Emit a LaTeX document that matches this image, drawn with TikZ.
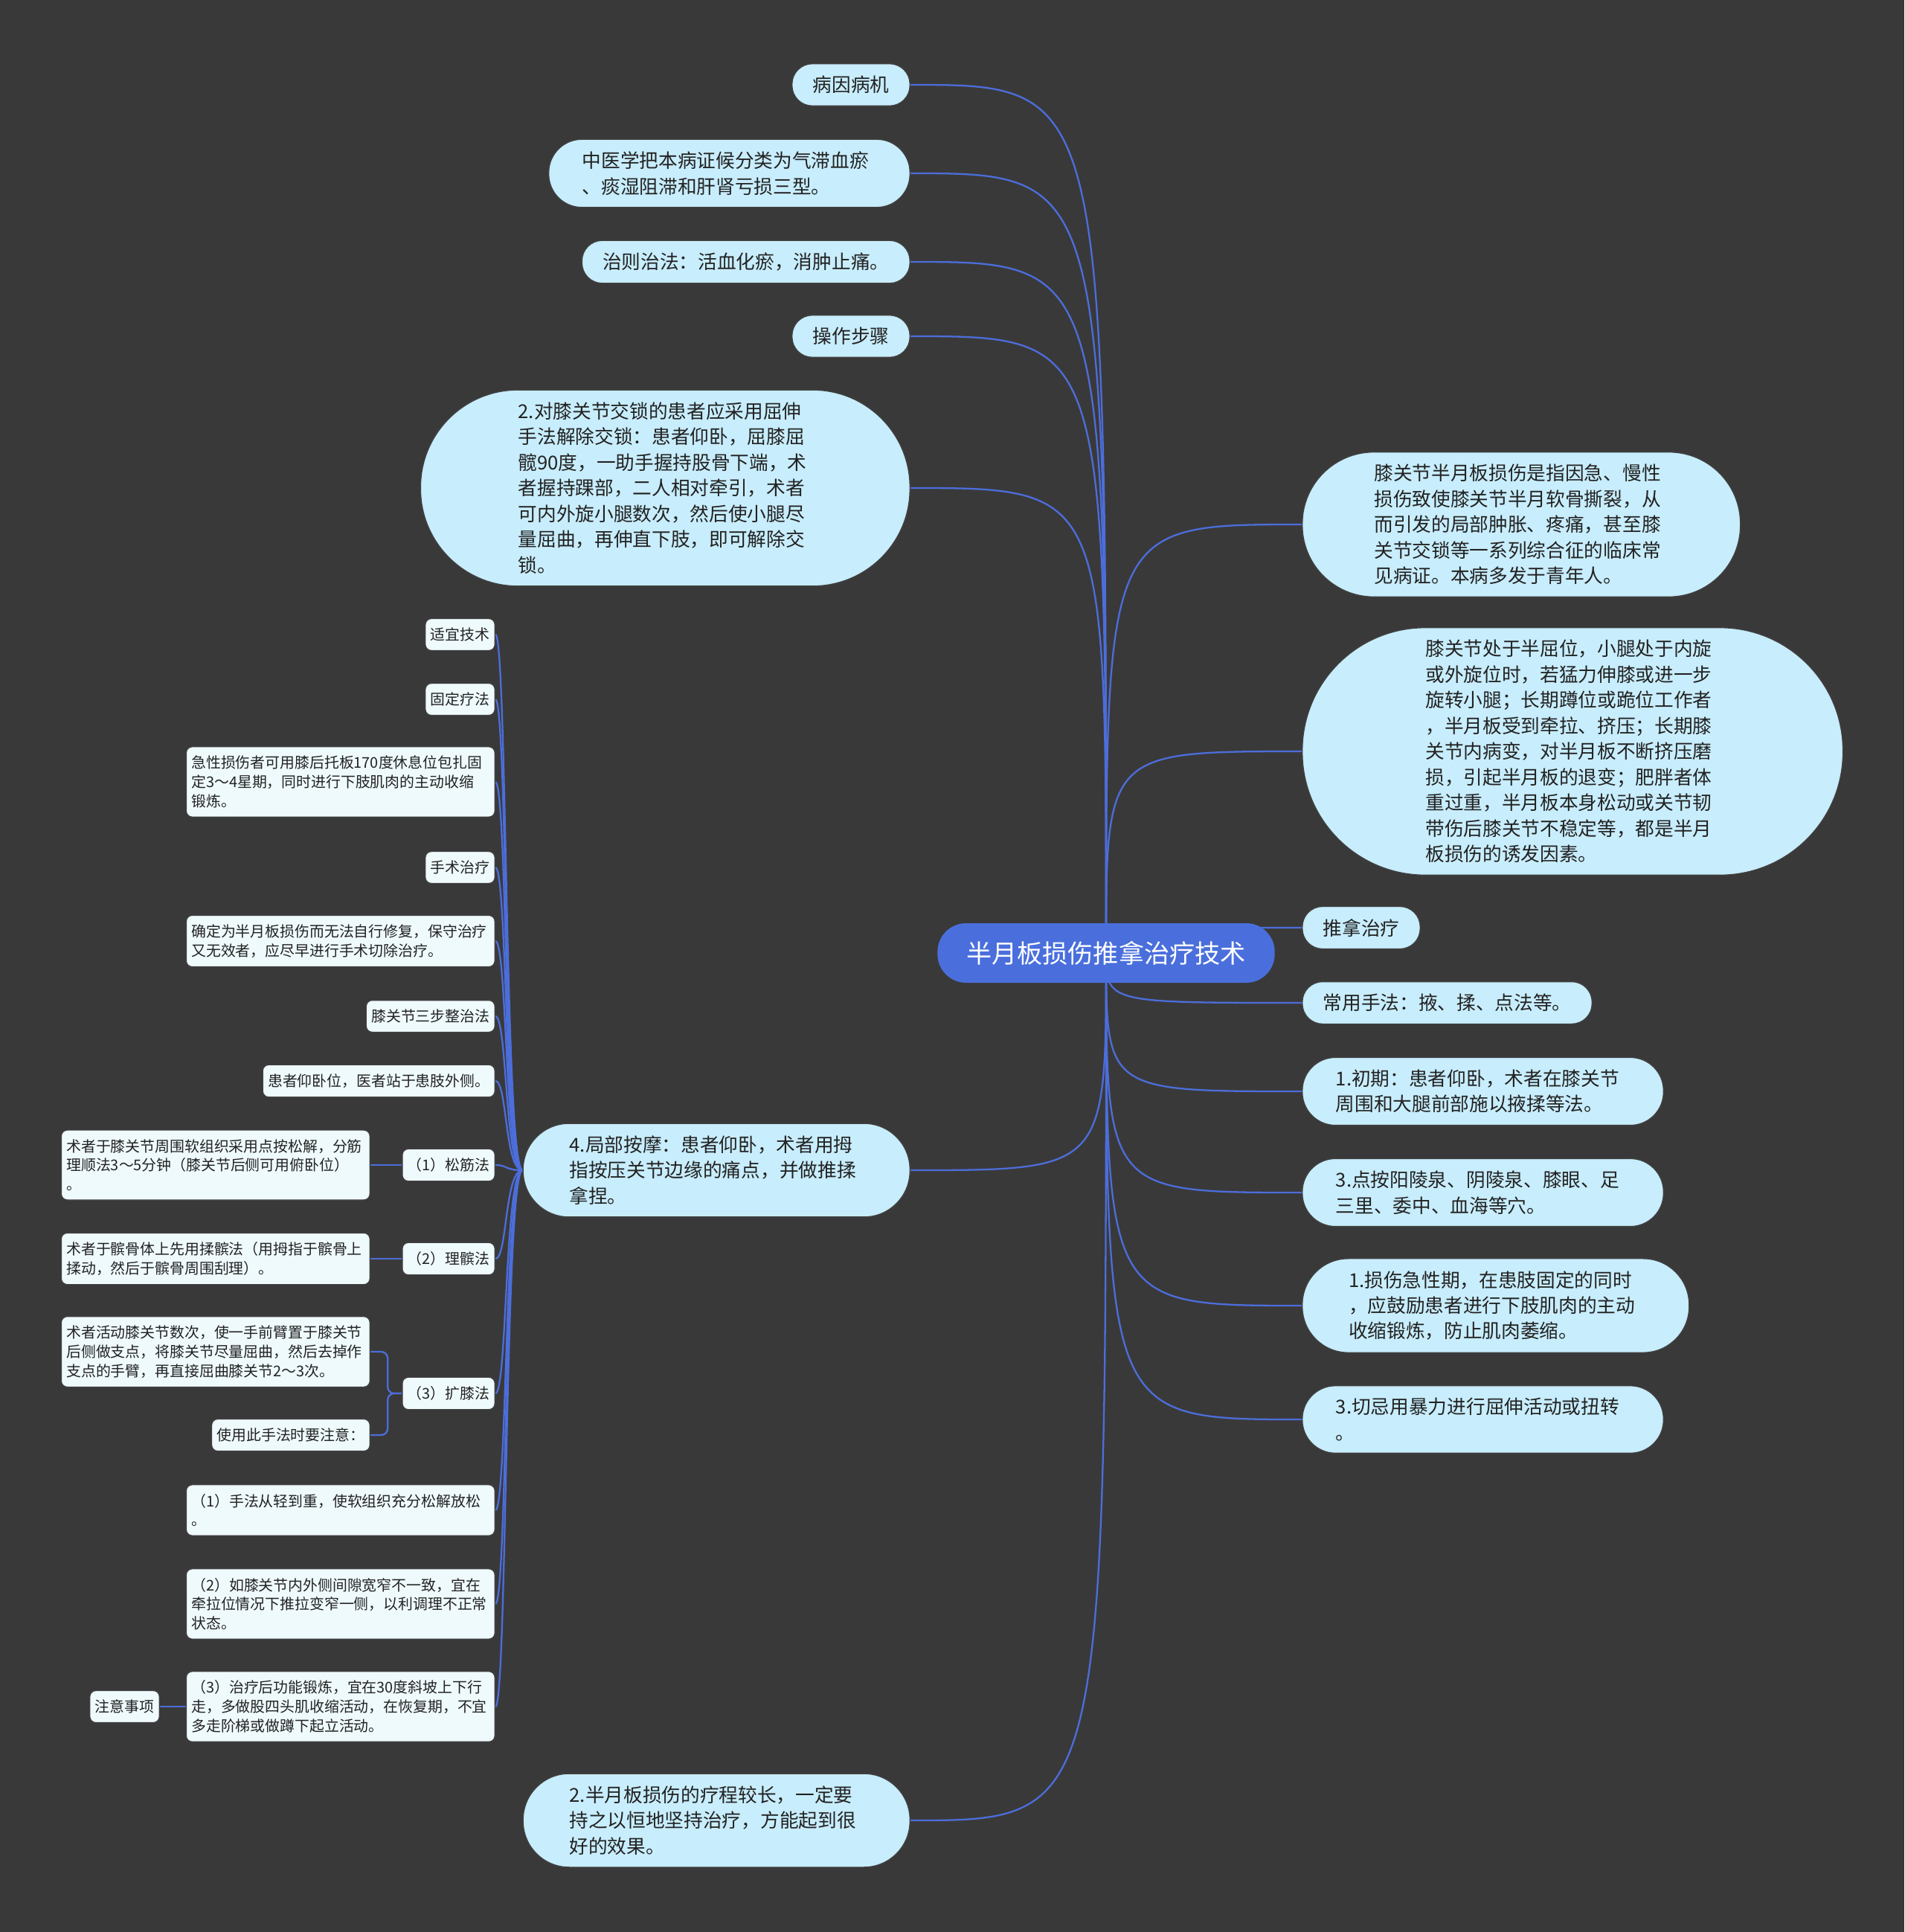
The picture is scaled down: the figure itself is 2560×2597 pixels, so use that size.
\documentclass[tikz,border=0pt]{standalone}
\usepackage{fontspec}
\setmainfont{Noto Sans CJK SC}
\definecolor{bgdark}{RGB}{58,57,58}
\definecolor{rootblue}{HTML}{4A6FDC}
\definecolor{linkblue}{HTML}{4C6EDB}
\definecolor{topicblue}{HTML}{C8EDFC}
\definecolor{leafwhite}{HTML}{EFFAFD}
\definecolor{inkdark}{HTML}{222222}
\pgfdeclarelayer{back}
\pgfdeclarelayer{wires}
\pgfsetlayers{back,wires,main}

\begin{document}
\begin{tikzpicture}[x=0.01cm,y=-0.01cm,
  every node/.style={text=inkdark},
  root/.style={rectangle,rounded corners=10.9pt,fill=rootblue,text=white,
    inner xsep=11.1pt,inner ysep=6.8pt,minimum height=22.2pt,
    font=\fontsize{9.7}{12}\selectfont},
  topic/.style={rectangle,rounded corners={(4.9*#1+2.9)*1pt},draw=black!75,line width=0.4pt,
    fill=topicblue,inner xsep={(4.9*#1+3.05)*1pt},inner ysep=4.7pt,
    minimum height={(9.8*#1+6.1)*1pt},align=left,font=\fontsize{7.3}{9.8}\selectfont},
  topic/.default=1,
  fixw/.style={text width=112.4pt},
  leaf/.style={rectangle,rounded corners=2.3pt,draw=black!75,line width=0.4pt,fill=leafwhite,
    inner xsep=2pt,inner ysep=3.5pt,align=left,font=\fontsize{5.65}{7.3}\selectfont},
  wide/.style={leaf,text width=114pt},
  link/.style={draw=linkblue,line width=0.65pt}
]
\begin{pgfonlayer}{back}
  \fill[bgdark] (0,0) rectangle (2560,2597);
\end{pgfonlayer}

% centre
\node[root] (root) at (1487,1281) {半月板损伤推拿治疗技术};

% left topics
\node[topic,anchor=east] (l1) at (1224,114) {病因病机};
\node[topic=2,fixw,anchor=east] (l2) at (1224,233) {中医学把本病证候分类为气滞血瘀\\、痰湿阻滞和肝肾亏损三型。};
\node[topic,anchor=east] (l3) at (1224,352) {治则治法：活血化瘀，消肿止痛。};
\node[topic,anchor=east] (l4) at (1224,452) {操作步骤};
\node[topic=7,fixw,anchor=east] (l5) at (1224,656) {2.对膝关节交锁的患者应采用屈伸\\手法解除交锁：患者仰卧，屈膝屈\\髋90度，一助手握持股骨下端，术\\者握持踝部，二人相对牵引，术者\\可内外旋小腿数次，然后使小腿尽\\量屈曲，再伸直下肢，即可解除交\\锁。};
\node[topic=3,fixw,anchor=east] (l6) at (1224,1573) {4.局部按摩：患者仰卧，术者用拇\\指按压关节边缘的痛点，并做推揉\\拿捏。};
\node[topic=3,fixw,anchor=east] (l7) at (1224,2447) {2.半月板损伤的疗程较长，一定要\\持之以恒地坚持治疗，方能起到很\\好的效果。};

% right topics
\node[topic=5,fixw,anchor=west] (r1) at (1750,705) {膝关节半月板损伤是指因急、慢性\\损伤致使膝关节半月软骨撕裂，从\\而引发的局部肿胀、疼痛，甚至膝\\关节交锁等一系列综合征的临床常\\见病证。本病多发于青年人。};
\node[topic=9,fixw,anchor=west] (r2) at (1750,1010) {膝关节处于半屈位，小腿处于内旋\\或外旋位时，若猛力伸膝或进一步\\旋转小腿；长期蹲位或跪位工作者\\，半月板受到牵拉、挤压；长期膝\\关节内病变，对半月板不断挤压磨\\损，引起半月板的退变；肥胖者体\\重过重，半月板本身松动或关节韧\\带伤后膝关节不稳定等，都是半月\\板损伤的诱发因素。};
\node[topic,anchor=west] (r3) at (1750,1247) {推拿治疗};
\node[topic,anchor=west] (r4) at (1750,1348) {常用手法：掖、揉、点法等。};
\node[topic=2,fixw,anchor=west] (r5) at (1750,1467) {1.初期：患者仰卧，术者在膝关节\\周围和大腿前部施以掖揉等法。};
\node[topic=2,fixw,anchor=west] (r6) at (1750,1603) {3.点按阳陵泉、阴陵泉、膝眼、足\\三里、委中、血海等穴。};
\node[topic=3,fixw,anchor=west] (r7) at (1750,1755) {1.损伤急性期，在患肢固定的同时\\，应鼓励患者进行下肢肌肉的主动\\收缩锻炼，防止肌肉萎缩。};
\node[topic=2,fixw,anchor=west] (r8) at (1750,1908) {3.切忌用暴力进行屈伸活动或扭转\\。};

% children of the massage step
\node[leaf,anchor=east] (s1) at (666,853) {适宜技术};
\node[leaf,anchor=east] (s2) at (666,940) {固定疗法};
\node[wide,anchor=east] (s3) at (666,1051) {急性损伤者可用膝后托板170度休息位包扎固\\定3～4星期，同时进行下肢肌肉的主动收缩\\锻炼。};
\node[leaf,anchor=east] (s4) at (666,1166) {手术治疗};
\node[wide,anchor=east] (s5) at (666,1265) {确定为半月板损伤而无法自行修复，保守治疗\\又无效者，应尽早进行手术切除治疗。};
\node[leaf,anchor=east] (s6) at (666,1366) {膝关节三步整治法};
\node[leaf,anchor=east] (s7) at (666,1453) {患者仰卧位，医者站于患肢外侧。};
\node[leaf,anchor=east] (s8) at (666,1566) {（1）松筋法};
\node[leaf,anchor=east] (s9) at (666,1692) {（2）理髌法};
\node[leaf,anchor=east] (s10) at (666,1873) {（3）扩膝法};
\node[wide,anchor=east] (s11) at (666,2030) {（1）手法从轻到重，使软组织充分松解放松\\。};
\node[wide,anchor=east] (s12) at (666,2156) {（2）如膝关节内外侧间隙宽窄不一致，宜在\\牵拉位情况下推拉变窄一侧，以利调理不正常\\状态。};
\node[wide,anchor=east] (s13) at (666,2294) {（3）治疗后功能锻炼，宜在30度斜坡上下行\\走，多做股四头肌收缩活动，在恢复期，不宜\\多走阶梯或做蹲下起立活动。};

% third level
\node[wide,anchor=east] (t1) at (498,1566) {术者于膝关节周围软组织采用点按松解，分筋\\理顺法3～5分钟（膝关节后侧可用俯卧位）\\。};
\node[wide,anchor=east] (t2) at (498,1692) {术者于髌骨体上先用揉髌法（用拇指于髌骨上\\揉动，然后于髌骨周围刮理）。};
\node[wide,anchor=east] (t3) at (498,1817) {术者活动膝关节数次，使一手前臂置于膝关节\\后侧做支点，将膝关节尽量屈曲，然后去掉作\\支点的手臂，再直接屈曲膝关节2～3次。};
\node[leaf,anchor=east] (t4) at (498,1929) {使用此手法时要注意：};
\node[leaf,anchor=east] (t5) at (215,2294) {注意事项};

\begin{pgfonlayer}{wires}
  \foreach \n in {l1,l2,l3,l4,l5,l6,l7}
    \draw[link] (root.center) .. controls (root.center |- \n.east) .. (\n.east);
  \foreach \n in {r1,r2,r3,r4,r5,r6,r7,r8}
    \draw[link] (root.center) .. controls (root.center |- \n.west) .. (\n.west);
  \foreach \n in {s1,s2,s3,s4,s5,s6,s7,s8,s9,s10,s11,s12,s13}
    \draw[link] (l6.west) .. controls +(-24,0) and +(16,0) .. (\n.east);
  \draw[link] (s8.west) -- (t1.east);
  \draw[link] (s9.west) -- (t2.east);
  \draw[link,rounded corners=2.5pt] (s10.west) -- ++(-19,0) |- (t3.east);
  \draw[link,rounded corners=2.5pt] (s10.west) -- ++(-19,0) |- (t4.east);
  \draw[link] (s13.west) -- (t5.east);
\end{pgfonlayer}
\end{tikzpicture}
\end{document}
